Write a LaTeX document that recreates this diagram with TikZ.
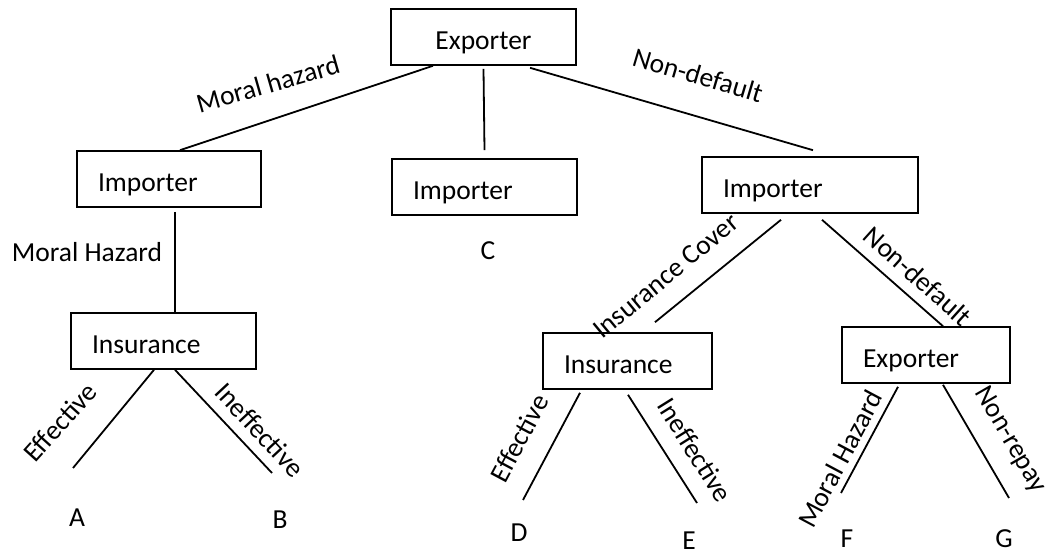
\documentclass[tikz,border=0pt]{standalone}
\usepackage{fontspec}
\setmainfont{Carlito}

\begin{document}
\begin{tikzpicture}[x=1pt,y=-1pt]
\tikzset{every node/.style={font=\fontsize{27.5}{33}\selectfont},
  boite/.style={draw, line width=1.6pt, minimum height=56pt, inner xsep=21pt,
    text height=26pt, text depth=0pt, align=left},
  branche/.style={line width=1.8pt}}
\useasboundingbox (0,0) rectangle (1053,553);
% boxes
\node[boite, text width=143pt, align=center] (Exp) at (483.5,37) {Exporter};
\node[boite, text width=142pt] (ImpL) at (169,179) {Importer};
\node[boite, text width=143pt] (ImpM) at (484.5,187) {Importer};
\node[boite, text width=174pt] (ImpR) at (810,185) {Importer};
\node[boite, text width=143pt] (InsL) at (163.5,341) {Insurance};
\node[boite, text width=127pt] (InsR) at (627.5,361) {Insurance};
\node[boite, text width=126pt] (ExpR) at (926,355) {Exporter};
% outcomes
\node (A) at (77,518) {A};
\node (B) at (280,520) {B};
\node (C) at (488,251) {C};
\node (D) at (519,533) {D};
\node (E) at (689,541) {E};
\node (F) at (847,539) {F};
\node (G) at (1004,539) {G};
\coordinate (a1) at (73,468);
\coordinate (b1) at (272,473);
\coordinate (d1) at (523,500);
\coordinate (e1) at (697,503);
\coordinate (f1) at (841,493);
\coordinate (g1) at (1009,498);
% branches
\draw[branche] ([xshift=-50.5pt]Exp.south) -- ([xshift=11pt]ImpL.north);
\draw[branche] ([yshift=-3pt]Exp.south) -- ([yshift=8pt]ImpM.north);
\draw[branche] ([xshift=46.5pt,yshift=-2pt]Exp.south) -- ([xshift=3pt,yshift=6pt]ImpR.north);
\draw[branche] ([xshift=6pt,yshift=-4pt]ImpL.south) -- ([xshift=11.5pt]InsL.north);
\draw[branche] ([xshift=-9.5pt]InsL.south) -- (a1);
\draw[branche] ([xshift=11.5pt]InsL.south) -- (b1);
\draw[branche] ([xshift=-29pt,yshift=-6pt]ImpR.south) -- ([xshift=27.5pt,yshift=10pt]InsR.north);
\draw[branche] ([xshift=12pt,yshift=-6pt]ImpR.south) -- ([xshift=17pt]ExpR.north);
\draw[branche] ([xshift=-47.5pt,yshift=-3pt]InsR.south) -- (d1);
\draw[branche] ([xshift=0.5pt,yshift=-5pt]InsR.south) -- (e1);
\draw[branche] ([xshift=-28pt,yshift=-3pt]ExpR.south) -- (f1);
\draw[branche] ([xshift=17pt,yshift=-1pt]ExpR.south) -- (g1);
% labels
\node[rotate=16] (lMoral) at (268,84) {Moral hazard};
\node[rotate=-16.5] (lNonDef) at (698,75) {Non-default};
\node (lMoralH) at (87,252) {Moral Hazard};
\node[rotate=48] (lEffL) at (60,422) {Effective};
\node[rotate=-47] (lIneffL) at (260,430) {Ineffective};
\node[rotate=39.5] (lCover) at (666,276) {Insurance Cover};
\node[rotate=-42] (lNonDefR) at (918,276) {Non-default};
\node[rotate=62] (lEffR) at (519,438) {Effective};
\node[rotate=-58] (lIneffR) at (695,450) {Ineffective};
\node[rotate=62] (lMoralR) at (840,459) {Moral Hazard};
\node[rotate=-60] (lRepay) at (1010,440) {Non-repay};
\end{tikzpicture}
\end{document}
